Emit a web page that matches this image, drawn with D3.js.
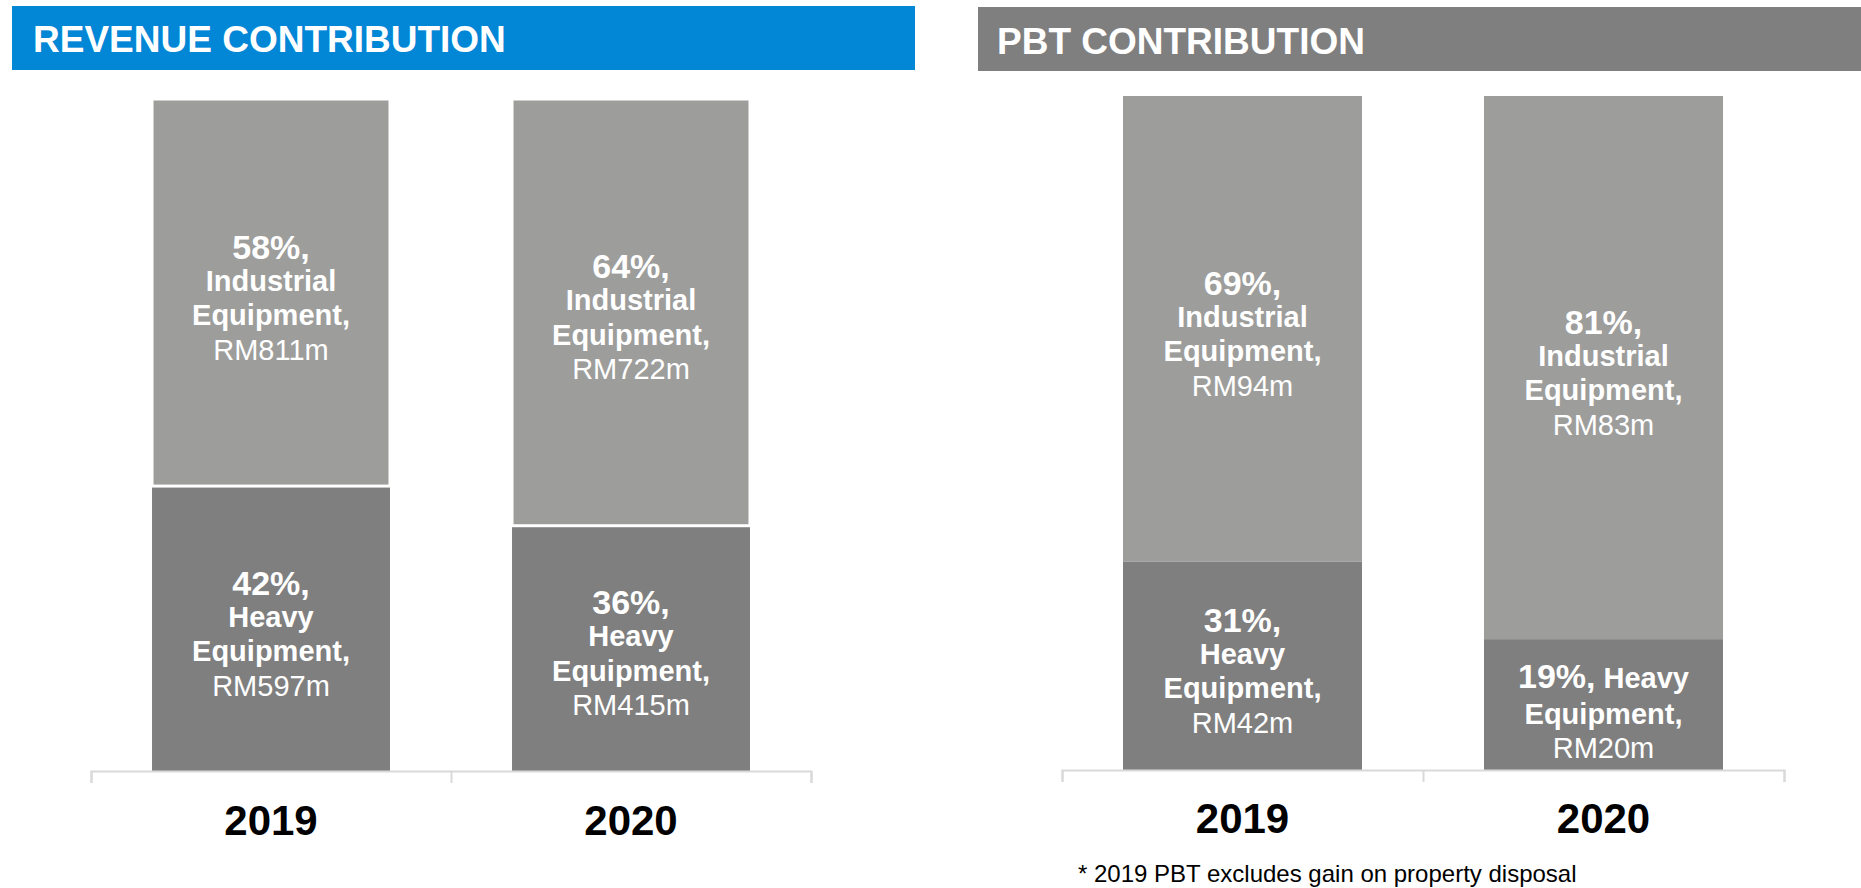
<!DOCTYPE html>
<html>
<head>
<meta charset="utf-8">
<script src="https://cdn.jsdelivr.net/npm/d3@7"></script>
<style>
  html, body { margin: 0; padding: 0; background: #ffffff; }
  svg { display: block; }
  text { font-family: "Liberation Sans", Arial, Helvetica, sans-serif; }
</style>
</head>
<body>
<svg id="chart" width="1861" height="888"></svg>
<script>
// ---- data -------------------------------------------------------------
const years = ["2019", "2020"];

// Revenue (RM million) and stated shares
const revIndustrial = [811, 722];
const revHeavy = [597, 415];
const revIndustrialPct = [58, 64];
const revHeavyPct = [42, 36];

// Profit before tax (RM million) and stated shares
const pbtIndustrial = [94, 83];
const pbtHeavy = [42, 20];
const pbtIndustrialPct = [69, 81];
const pbtHeavyPct = [31, 19];

// whether the segment name shares the first line with the percentage
const pbtHeavyInline = [false, true];

const segmentNames = { industrial: "Industrial", heavy: "Heavy" };
const footnote = "* 2019 PBT excludes gain on property disposal";

// ---- styles -----------------------------------------------------------
const COLORS = {
  industrial: "#9d9d9b",
  heavy: "#7f7f7f",
  blue: "#0286d6",
  greyHeader: "#7f7f7f",
  axis: "#d9d9d9"
};

const svg = d3.select("#chart");

function drawPanel(cfg) {
  const g = svg.append("g");

  // header band
  g.append("rect")
    .attr("x", cfg.header.x0).attr("y", cfg.header.y0)
    .attr("width", cfg.header.x1 - cfg.header.x0)
    .attr("height", cfg.header.y1 - cfg.header.y0)
    .attr("fill", cfg.headerColor);
  g.append("text")
    .attr("x", cfg.titleX).attr("y", cfg.titleY)
    .attr("fill", "#ffffff")
    .attr("font-size", 37).attr("font-weight", "bold")
    .text(cfg.title);

  const rows = years.map((yr, i) => ({
    year: yr,
    heavy: cfg.heavy[i],
    industrial: cfg.industrial[i],
    heavyPct: cfg.heavyPct[i],
    industrialPct: cfg.industrialPct[i],
    inline: cfg.inline ? cfg.inline[i] : false
  }));

  const x = d3.scaleBand()
    .domain(years)
    .range([cfg.x0, cfg.x1])
    .paddingInner(cfg.pad)
    .paddingOuter(cfg.pad / 2);

  const y = d3.scaleLinear()
    .domain([0, 1])
    .range([cfg.yBottom, cfg.yTop]);

  const stack = d3.stack()
    .keys(["heavy", "industrial"])
    .offset(d3.stackOffsetExpand);
  const series = stack(rows);

  // stacked segments
  series.forEach(s => {
    g.append("g").selectAll("rect")
      .data(s)
      .join("rect")
      .attr("x", d => x(d.data.year))
      .attr("width", x.bandwidth())
      .attr("y", d => y(d[1]))
      .attr("height", d => y(d[0]) - y(d[1]))
      .attr("fill", COLORS[s.key])
      .attr("stroke", cfg.segStroke && s.key === "industrial" ? "#ffffff" : "none")
      .attr("stroke-width", cfg.segStroke || 0);
  });

  // axis with ticks at category boundaries
  const bx = d3.scaleLinear().domain([0, years.length]).range([cfg.x0, cfg.x1]);
  const axis = g.append("g")
    .attr("transform", `translate(0,${cfg.yBottom})`)
    .call(d3.axisBottom(bx).tickValues(d3.range(years.length + 1))
      .tickSize(12).tickSizeOuter(12).tickFormat(""));
  axis.select(".domain").attr("stroke", COLORS.axis).attr("stroke-width", 2);
  axis.selectAll(".tick line").attr("stroke", COLORS.axis).attr("stroke-width", 2);

  // category labels
  g.append("g").selectAll("text")
    .data(years)
    .join("text")
    .attr("x", d => x(d) + x.bandwidth() / 2)
    .attr("y", cfg.yearY)
    .attr("text-anchor", "middle")
    .attr("font-size", 42).attr("font-weight", "bold")
    .attr("fill", "#000000")
    .text(d => d);

  // in-bar labels, centred in their segment
  series.forEach(s => {
    s.forEach(d => {
      const r = d.data;
      const key = s.key;
      const pct = r[key + "Pct"];
      const lines = [];
      if (key === "heavy" && r.inline) {
        lines.push({ adv: 36, parts: [{ t: pct + "%,", size: 34, bold: true }, { t: " " + segmentNames[key], size: 29, bold: true }] });
      } else {
        lines.push({ adv: 32, parts: [{ t: pct + "%,", size: 34, bold: true }] });
        lines.push({ adv: 34.5, parts: [{ t: segmentNames[key], size: 29, bold: true }] });
      }
      lines.push({ adv: 34.5, parts: [{ t: "Equipment,", size: 29, bold: true }] });
      lines.push({ adv: 34.5, parts: [{ t: "RM" + r[key] + "m", size: 29, bold: false }] });

      // text box height from line boxes (1.2 × largest size on the line)
      const boxH = d3.sum(lines, ln => 1.2 * d3.max(ln.parts, p => p.size));
      const cy = (y(d[0]) + y(d[1])) / 2;
      let by = cy - boxH / 2 + 38.6;
      const cx = x(r.year) + x.bandwidth() / 2;

      lines.forEach((ln, i) => {
        if (i > 0) by += lines[i - 1].adv;
        const t = g.append("text")
          .attr("x", cx).attr("y", by)
          .attr("text-anchor", "middle")
          .attr("fill", "#ffffff");
        ln.parts.forEach(p => {
          t.append("tspan")
            .attr("font-size", p.size)
            .attr("font-weight", p.bold ? "bold" : "normal")
            .text(p.t);
        });
      });
    });
  });
}

drawPanel({
  title: "REVENUE CONTRIBUTION",
  headerColor: COLORS.blue,
  header: { x0: 12, x1: 915, y0: 6, y1: 70 },
  titleX: 33, titleY: 52,
  industrial: revIndustrial, heavy: revHeavy,
  industrialPct: revIndustrialPct, heavyPct: revHeavyPct,
  x0: 91, x1: 811, pad: 0.339,
  yTop: 99, yBottom: 771,
  yearY: 835,
  segStroke: 3
});

drawPanel({
  title: "PBT CONTRIBUTION",
  headerColor: COLORS.greyHeader,
  header: { x0: 978, x1: 1861, y0: 7, y1: 71 },
  titleX: 997, titleY: 54,
  industrial: pbtIndustrial, heavy: pbtHeavy,
  industrialPct: pbtIndustrialPct, heavyPct: pbtHeavyPct,
  inline: pbtHeavyInline,
  x0: 1062, x1: 1784, pad: 0.338,
  yTop: 96, yBottom: 770,
  yearY: 833,
  segStroke: 0
});

svg.append("text")
  .attr("x", 1078).attr("y", 882)
  .attr("font-size", 24)
  .attr("fill", "#000000")
  .text(footnote);
</script>
</body>
</html>
